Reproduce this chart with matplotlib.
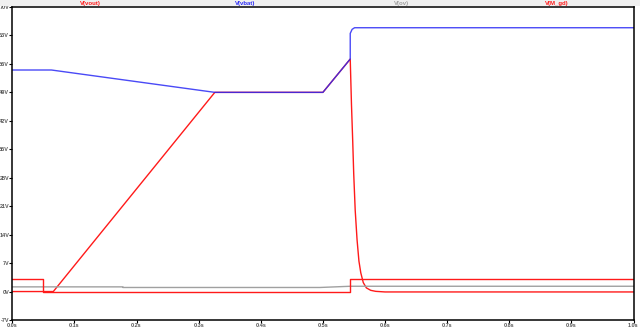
import matplotlib
matplotlib.use('Agg')
import matplotlib.pyplot as plt
from matplotlib.patches import Rectangle

# trace data (time in s, volts)
t_vout = [0.0, 0.066, 0.326, 0.500, 0.544, 0.546, 0.548, 0.5496, 0.552, 0.555,
          0.558, 0.561, 0.565, 0.570, 0.577, 0.585, 0.600, 1.0]
v_vout = [0.0, 0.0, 49.0, 49.0, 57.2, 46.0, 37.0, 29.0, 20.0, 12.7,
          7.5, 4.6, 2.2, 0.9, 0.3, 0.05, -0.1, -0.1]

t_vbat = [0.0, 0.063, 0.326, 0.500, 0.544, 0.544, 0.547, 0.551, 1.0]
v_vbat = [54.5, 54.5, 49.0, 49.0, 57.2, 63.5, 64.5, 64.9, 64.9]

t_ov = [0.0, 0.178, 0.178, 0.495, 0.544, 1.0]
v_ov = [1.15, 1.15, 1.0, 1.0, 1.3, 1.3]

t_gd = [0.0, 0.05, 0.05, 0.544, 0.544, 1.0]
v_gd = [3.2, 3.2, 0.0, 0.0, 3.2, 3.2]

y_ticks = [70, 63, 56, 49, 42, 35, 28, 21, 14, 7, 0, -7]
x_ticks = [0.0, 0.1, 0.2, 0.3, 0.4, 0.5, 0.6, 0.7, 0.8, 0.9, 1.0]

red = "#ff1a1a"
blue = "#2a2af5"
gray = "#a0a0a0"
tick_col = "#555555"
small_font = ["Liberation Sans Narrow", "Liberation Sans", "DejaVu Sans"]

fig = plt.figure(figsize=(6.4, 3.31), dpi=100)
fig.patch.set_facecolor("white")
# light band above the plot where the trace names sit
fig.patches.append(Rectangle((0, 1 - 6/331), 1, 6/331, transform=fig.transFigure,
                             facecolor="#f0f0f0", edgecolor="none", zorder=0))

ax = fig.add_axes([12.3/640, 11/331, (633.5 - 12.3)/640, (320 - 7)/331])
ax.plot(t_vout, v_vout, color=red, lw=1.0)
ax.plot(t_vbat, v_vbat, color=blue, lw=1.0, alpha=0.85)
ax.plot(t_ov, v_ov, color=gray, lw=1.0)
ax.plot(t_gd, v_gd, color=red, lw=1.0)

ax.set_xlim(0, 1.0)
ax.set_ylim(-7, 70)
ax.set_yticks(y_ticks)
ax.set_yticklabels([f"{v}V" for v in y_ticks], family=small_font, fontweight="bold")
ax.set_xticks(x_ticks)
ax.set_xticklabels([f"{v:.1f}s" for v in x_ticks], family=small_font, fontweight="bold")
ax.tick_params(axis="both", labelsize=4, labelcolor=tick_col, length=2,
               width=0.8, pad=0.3, direction="out")
for s in ax.spines.values():
    s.set_color("black")
    s.set_linewidth(1.1)

# trace names along the top
names = ["V(vout)", "V(vbat)", "V(ov)", "V(M_gd)"]
name_cols = [red, blue, gray, red]
name_x = [90, 245, 402, 557]
for n, c, x in zip(names, name_cols, name_x):
    fig.text(x/640, 1 - 3.3/331, n, color=c, fontsize=4.3, ha="center", va="center",
             family=small_font, fontweight="bold")

fig.savefig("out.png", dpi=100)
